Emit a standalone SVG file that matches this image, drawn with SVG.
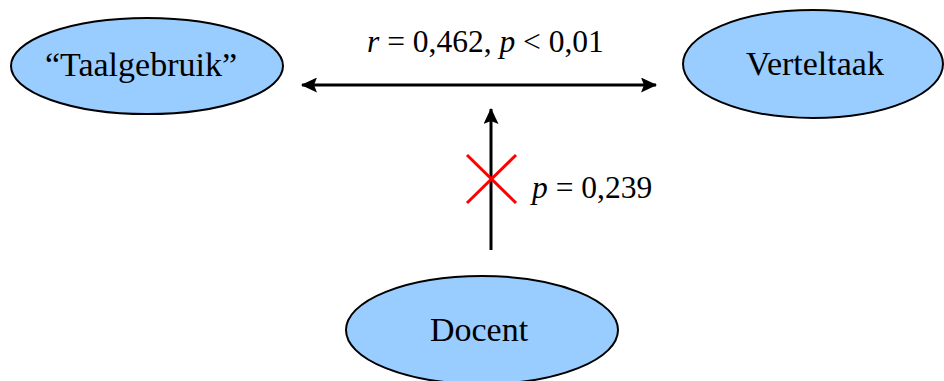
<svg xmlns="http://www.w3.org/2000/svg" width="944" height="381" viewBox="0 0 944 381">
<style>
.node{fill:#99ccff;stroke:#000;stroke-width:2}
.t{font-size:34px;fill:#000}
.l{font-size:31.5px;fill:#000}
.i{font-style:italic}
.c{stroke:#000;stroke-width:3;fill:none}
</style>
<defs>
<marker id="ah" viewBox="0 0 16 15" refX="15" refY="7.5" markerWidth="16" markerHeight="15" markerUnits="userSpaceOnUse" orient="auto-start-reverse">
<path d="M0,0 L16,7.5 L0,15 L3,7.5 z" fill="#000"/>
</marker>
</defs>
<rect width="944" height="381" fill="#fff"/>
<g font-family="'Liberation Serif', 'Times New Roman', serif">
<g id="taalgebruik">
<ellipse class="node" cx="147" cy="66" rx="136" ry="48"/>
<text class="t" x="141" y="76" text-anchor="middle">“Taalgebruik”</text>
</g>
<g id="verteltaak">
<ellipse class="node" cx="813" cy="64" rx="130" ry="54"/>
<text class="t" x="815" y="75" text-anchor="middle">Verteltaak</text>
</g>
<g id="docent">
<ellipse class="node" cx="482" cy="330" rx="136" ry="54"/>
<text class="t" x="479" y="341" text-anchor="middle">Docent</text>
</g>
<g id="connectors">
<line class="c" x1="302" y1="85" x2="656" y2="85" marker-start="url(#ah)" marker-end="url(#ah)"/>
<line class="c" x1="491" y1="250" x2="491" y2="109" marker-end="url(#ah)"/>
<line x1="467" y1="155" x2="516" y2="203" stroke="#ff0000" stroke-width="3"/>
<line x1="516" y1="155" x2="467" y2="203" stroke="#ff0000" stroke-width="3"/>
<text class="l" x="367" y="52"><tspan class="i">r</tspan> = 0,462, <tspan class="i">p</tspan> &lt; 0,01</text>
<text class="l" x="532" y="198"><tspan class="i">p</tspan> = 0,239</text>
</g>
</g>
</svg>
